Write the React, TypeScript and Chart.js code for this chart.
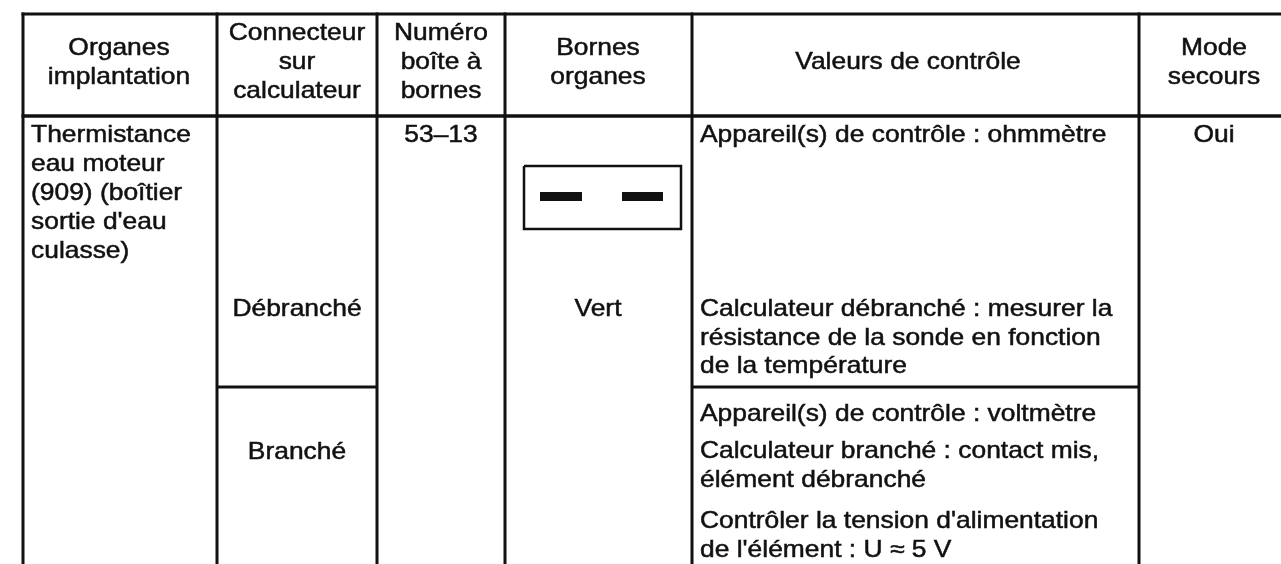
import React, { useEffect, useRef } from "react";
import { Chart, registerables } from "chart.js";

Chart.register(...registerables);

// ---------- DATA (text content of the table) ----------
const headerCells: string[][] = [
  ["Organes", "implantation"],
  ["Connecteur", "sur", "calculateur"],
  ["Numéro", "boîte à", "bornes"],
  ["Bornes", "organes"],
  ["Valeurs de contrôle"],
  ["Mode", "secours"],
];
const organeLines: string[] = ["Thermistance", "eau moteur", "(909) (boîtier", "sortie d'eau", "culasse)"];
const connecteurStates: string[] = ["Débranché", "Branché"];
const boiteNumero: string[] = ["53–13"];
const borneCouleur: string[] = ["Vert"];
const valeursDebranche: string[] = [
  "Appareil(s) de contrôle : ohmmètre",
  "Calculateur débranché : mesurer la",
  "résistance de la sonde en fonction",
  "de la température",
];
const valeursBranche: string[] = [
  "Appareil(s) de contrôle : voltmètre",
  "Calculateur branché : contact mis,",
  "élément débranché",
  "Contrôler la tension d'alimentation",
  "de l'élément : U ≈ 5 V",
];
const modeSecours: string[] = ["Oui"];

// ---------- LAYOUT (positions in a 1281 x 564 coordinate space) ----------
const W = 1281;
const H = 564;
const COL = [23, 217, 377, 505, 692, 1139];
const COL_CENTER = [119, 297, 441, 598, 908, 1214];
const TOP = 14;
const HEAD = 116;
const SPLIT = 387; // Débranché / Branché separator
const HEAD_Y: Record<number, number[]> = { 1: [62], 2: [48, 77], 3: [33, 62, 91] };
const ROW1 = 135;
const ORG_Y = [135, 164, 193, 222, 251];
const DEB_Y = 309;
const VAL_DEB_Y = [135, 309, 338, 366];
const VAL_BR_Y = [414, 451, 480, 521, 550];
const BR_Y = 452;
const TEXT_PAD = 8;
const BOX = { x0: 524, x1: 681, y0: 166, y1: 229 };
const DASHES = [
  [540, 582],
  [622, 663],
];
const DASH_Y = 196.5;

const FONT = '24px "Liberation Sans", Arial, Helvetica, sans-serif';
const SX = 1.1;
const INK = "#111111";

type Seg = { pts: { x: number; y: number }[]; w: number };

function buildSegments(): Seg[] {
  const segs: Seg[] = [];
  segs.push({ pts: [{ x: COL[0] - 1.5, y: TOP }, { x: W + 5, y: TOP }], w: 3 });
  segs.push({ pts: [{ x: COL[0] - 1.5, y: HEAD }, { x: W + 5, y: HEAD }], w: 3.5 });
  for (let i = 0; i < COL.length; i++) {
    segs.push({ pts: [{ x: COL[i], y: TOP - 1.5 }, { x: COL[i], y: H + 5 }], w: 3 });
  }
  segs.push({ pts: [{ x: COL[1], y: SPLIT }, { x: COL[2], y: SPLIT }], w: 3 });
  segs.push({ pts: [{ x: COL[4], y: SPLIT }, { x: COL[5], y: SPLIT }], w: 3 });
  segs.push({
    pts: [
      { x: BOX.x0, y: BOX.y0 },
      { x: BOX.x1, y: BOX.y0 },
      { x: BOX.x1, y: BOX.y1 },
      { x: BOX.x0, y: BOX.y1 },
      { x: BOX.x0, y: BOX.y0 },
    ],
    w: 2.5,
  });
  for (const d of DASHES) {
    segs.push({ pts: [{ x: d[0], y: DASH_Y }, { x: d[1], y: DASH_Y }], w: 9 });
  }
  return segs;
}

type TextItem = { t: string; x: number; y: number; align: CanvasTextAlign };

function buildTexts(): TextItem[] {
  const items: TextItem[] = [];
  headerCells.forEach((lines, i) => {
    const ys = HEAD_Y[lines.length];
    lines.forEach((t, j) => items.push({ t, x: COL_CENTER[i], y: ys[j], align: "center" }));
  });
  organeLines.forEach((t, j) => items.push({ t, x: COL[0] + TEXT_PAD, y: ORG_Y[j], align: "left" }));
  items.push({ t: connecteurStates[0], x: COL_CENTER[1], y: DEB_Y, align: "center" });
  items.push({ t: connecteurStates[1], x: COL_CENTER[1], y: BR_Y, align: "center" });
  boiteNumero.forEach((t) => items.push({ t, x: COL_CENTER[2], y: ROW1, align: "center" }));
  borneCouleur.forEach((t) => items.push({ t, x: COL_CENTER[3], y: DEB_Y, align: "center" }));
  valeursDebranche.forEach((t, j) => items.push({ t, x: COL[4] + TEXT_PAD, y: VAL_DEB_Y[j], align: "left" }));
  valeursBranche.forEach((t, j) => items.push({ t, x: COL[4] + TEXT_PAD, y: VAL_BR_Y[j], align: "left" }));
  modeSecours.forEach((t) => items.push({ t, x: COL_CENTER[5], y: ROW1, align: "center" }));
  return items;
}

const textPlugin = {
  id: "tableText",
  afterDatasetsDraw(chart: any) {
    const ctx: CanvasRenderingContext2D = chart.ctx;
    const xs = chart.scales.x;
    const ys = chart.scales.y;
    ctx.save();
    ctx.fillStyle = INK;
    ctx.strokeStyle = INK;
    ctx.lineWidth = 0.5;
    ctx.font = FONT;
    ctx.textBaseline = "middle";
    for (const it of buildTexts()) {
      const px = xs.getPixelForValue(it.x);
      const py = ys.getPixelForValue(it.y);
      ctx.save();
      ctx.translate(px, py);
      ctx.scale(SX, 1);
      ctx.textAlign = it.align;
      ctx.fillText(it.t, 0, 0);
      ctx.strokeText(it.t, 0, 0);
      ctx.restore();
    }
    ctx.restore();
  },
};

const bgPlugin = {
  id: "bg",
  beforeDraw(chart: any) {
    const ctx = chart.ctx;
    ctx.save();
    ctx.fillStyle = "#ffffff";
    ctx.fillRect(0, 0, chart.width, chart.height);
    ctx.restore();
  },
};

export default function App() {
  const ref = useRef<HTMLCanvasElement | null>(null);
  useEffect(() => {
    document.body.style.margin = "0";
    if (!ref.current) return;
    const segs = buildSegments();
    const chart = new Chart(ref.current, {
      type: "scatter",
      data: {
        datasets: segs.map((s) => ({
          type: "line" as const,
          data: s.pts,
          borderColor: INK,
          backgroundColor: INK,
          borderWidth: s.w,
          pointRadius: 0,
          showLine: true,
          fill: false,
          tension: 0,
          borderCapStyle: "butt" as const,
          borderJoinStyle: "miter" as const,
          clip: false as any,
        })),
      },
      options: {
        animation: false,
        responsive: false,
        maintainAspectRatio: false,
        layout: { padding: 0 },
        events: [],
        plugins: { legend: { display: false }, tooltip: { enabled: false } },
        scales: {
          x: { type: "linear", min: 0, max: W, display: false },
          y: { type: "linear", min: 0, max: H, reverse: true, display: false },
        },
      },
      plugins: [bgPlugin, textPlugin],
    });
    return () => chart.destroy();
  }, []);
  return (
    <div style={{ position: "absolute", left: 0, top: 0, width: W, height: H, background: "#fff" }}>
      <canvas ref={ref} width={W} height={H} style={{ display: "block", width: W, height: H }} />
    </div>
  );
}
